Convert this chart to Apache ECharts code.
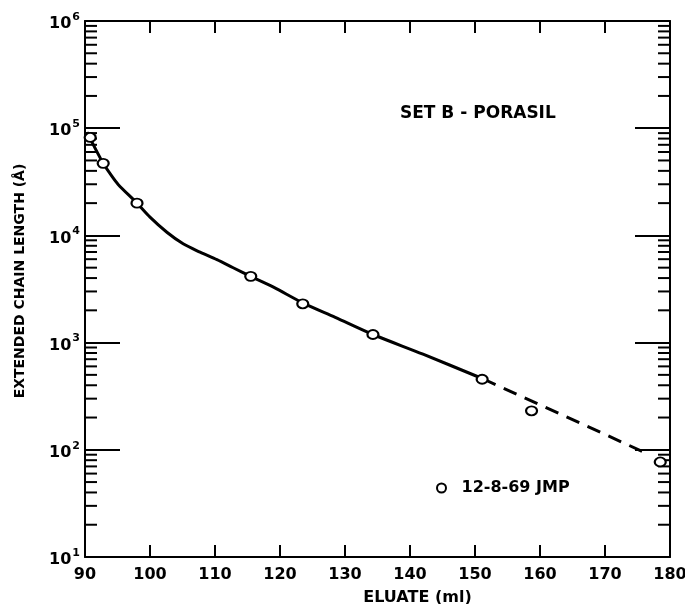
<!DOCTYPE html>
<html>
<head>
<meta charset="utf-8">
<script src="https://cdn.jsdelivr.net/npm/echarts@6/dist/echarts.min.js"></script>
<style>
  html, body { margin: 0; padding: 0; background: #fff; }
  #chart { width: 685px; height: 604px; }
</style>
</head>
<body>
<div id="chart"></div>
<script>
// axis ranges
const xMin = 90, xMax = 180, xStep = 10;
const yMin = 10, yMax = 1000000;
const decades = [10, 100, 1000, 10000, 100000];
const minorSteps = [2, 3, 4, 5, 6, 7, 8, 9];

// fitted curve (eluate ml, chain length Å)
const curveSolid = [
  [90.3, 92000], [92.8, 47000], [94.1, 35900], [95.1, 29900], [98, 20000],
  [100, 14800], [102.6, 10700], [105.1, 8350], [107.7, 6980], [110.3, 5930],
  [112.8, 4990], [115.5, 4150], [119, 3290], [123.5, 2350], [128.5, 1720],
  [134.3, 1190], [142, 780], [151.2, 460]
];
const curveDashed = [[151.2, 460], [176.5, 92]];

// measured points, 12-8-69 JMP
const samples = [
  [90.8, 82000], [92.8, 47000], [98, 20000], [115.5, 4150], [123.5, 2300],
  [134.3, 1190], [151.1, 455], [158.7, 231], [178.5, 77]
];

const font = 'DejaVu Sans';
const minorTicks = [];
decades.forEach(d => minorSteps.forEach(m => minorTicks.push([xMin, d * m])));

const chart = echarts.init(document.getElementById('chart'), null, { renderer: 'canvas' });

const baseX = {
  type: 'value', min: xMin, max: xMax, interval: xStep,
  axisLine: { lineStyle: { color: '#000', width: 2 } },
  axisTick: { inside: true, length: 12, lineStyle: { color: '#000', width: 2 } },
  splitLine: { show: false }
};
const baseY = {
  type: 'log', logBase: 10, min: yMin, max: yMax,
  axisLine: { lineStyle: { color: '#000', width: 2 } },
  axisTick: { inside: true, length: 35, lineStyle: { color: '#000', width: 2 } },
  splitLine: { show: false },
  minorTick: { show: false }
};

const option = {
  backgroundColor: '#fff',
  animation: false,
  grid: { left: 85, right: 15, top: 21, bottom: 47, containLabel: false, outerBoundsMode: 'none' },
  legend: {
    data: ['12-8-69 JMP'],
    left: 431, top: 475,
    itemWidth: 10, itemHeight: 9,
    textStyle: { fontFamily: font, fontWeight: 'bold', fontSize: 16, color: '#000', padding: [0, 0, 0, 10] }
  },
  xAxis: [
    Object.assign({}, baseX, {
      position: 'bottom',
      axisLabel: { color: '#000', fontFamily: font, fontWeight: 'bold', fontSize: 16, margin: 10 },
      name: 'ELUATE (ml)', nameLocation: 'middle', nameGap: 33,
      nameTextStyle: { color: '#000', fontFamily: font, fontWeight: 'bold', fontSize: 16, padding: [0, 0, 0, 80] }
    }),
    Object.assign({}, baseX, { position: 'top', axisLabel: { show: false } })
  ],
  yAxis: [
    Object.assign({}, baseY, {
      position: 'left',
      name: 'EXTENDED CHAIN LENGTH (Å)', nameLocation: 'middle', nameGap: 58, nameRotate: 90,
      nameTextStyle: { color: '#000', fontFamily: font, fontWeight: 'bold', fontSize: 14, padding: [0, 0, 0, 16] },
      axisLabel: {
        margin: 5,
        formatter: v => '{b|10}{s|' + Math.round(Math.log10(v)) + '}',
        rich: {
          b: { color: '#000', fontFamily: font, fontWeight: 'bold', fontSize: 16, padding: [6, 0, 0, 0] },
          s: { color: '#000', fontFamily: font, fontWeight: 'bold', fontSize: 11, padding: [0, 0, 8, 1] }
        }
      }
    }),
    Object.assign({}, baseY, { position: 'right', axisLabel: { show: false } })
  ],
  graphic: [
    {
      type: 'text', left: 400, top: 105,
      style: { text: 'SET B - PORASIL', fill: '#000', font: 'bold 17px "DejaVu Sans"' }
    }
  ],
  series: [
    {
      type: 'custom', silent: true, clip: false,
      data: minorTicks,
      encode: { x: 0, y: 1 },
      renderItem: (params, api) => {
        const v = api.value(1);
        const l = api.coord([xMin, v]);
        const r = api.coord([xMax, v]);
        const st = { stroke: '#000', lineWidth: 2 };
        return {
          type: 'group',
          children: [
            { type: 'line', shape: { x1: l[0], y1: l[1], x2: l[0] + 12, y2: l[1] }, style: st },
            { type: 'line', shape: { x1: r[0] - 12, y1: r[1], x2: r[0], y2: r[1] }, style: st }
          ]
        };
      }
    },
    {
      type: 'line', data: curveSolid, smooth: 0.3, showSymbol: false, silent: true,
      lineStyle: { color: '#000', width: 3 }
    },
    {
      type: 'line', data: curveDashed, showSymbol: false, silent: true,
      lineStyle: { color: '#000', width: 3, type: [14, 9] }
    },
    {
      name: '12-8-69 JMP', type: 'scatter', data: samples, clip: false, z: 5,
      symbol: 'circle', symbolSize: [11, 9],
      itemStyle: { color: '#fff', borderColor: '#000', borderWidth: 2, opacity: 1 }
    }
  ]
};

chart.setOption(option);
</script>
</body>
</html>
